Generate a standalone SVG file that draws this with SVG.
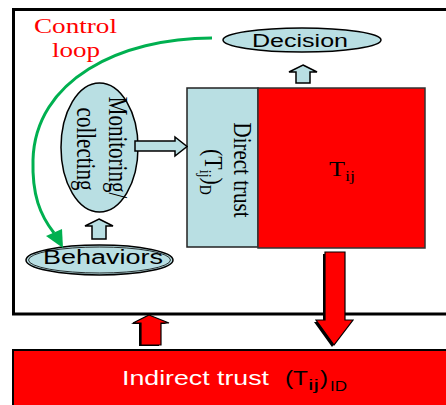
<svg xmlns="http://www.w3.org/2000/svg" width="446" height="405" viewBox="0 0 446 405">
<defs>
<style>
.blue{fill:#b9dfe3;stroke:#000;stroke-width:1.5}
.red{fill:#ff0000;stroke:#000;stroke-width:1.2}
.shadow{fill:#000}
.times{font-family:"Liberation Serif","Times New Roman",serif}
.arial{font-family:"Liberation Sans",Arial,sans-serif}
</style>
</defs>
<rect width="446" height="405" fill="#fff"/>
<g id="frame">
<rect x="13.5" y="9.5" width="450" height="304.5" fill="none" stroke="#000" stroke-width="3"/>
</g>
<g id="control-loop-label" class="times" fill="#ff0000" font-size="22">
<text x="34" y="33" textLength="83" lengthAdjust="spacingAndGlyphs">Control</text>
<text x="52" y="57" textLength="48" lengthAdjust="spacingAndGlyphs">loop</text>
</g>
<g id="decision">
<ellipse cx="302" cy="40" rx="79" ry="12" class="blue" stroke-width="2"/>
<text class="arial" x="252" y="47" font-size="18" textLength="96" lengthAdjust="spacingAndGlyphs">Decision</text>
</g>
<g id="monitoring">
<ellipse cx="99.5" cy="147.5" rx="38.5" ry="64.5" class="blue"/>
<text class="times" font-size="21" text-anchor="middle" transform="translate(109,147.5) scale(1.27,1) rotate(90)">Monitoring/</text>
<text class="times" font-size="21" text-anchor="middle" transform="translate(77,149) scale(1.27,1) rotate(90)">collecting</text>
</g>
<g id="behaviors">
<ellipse cx="99.5" cy="260" rx="73.5" ry="15" class="blue" stroke-width="1.3"/>
<ellipse cx="99.5" cy="260" rx="71" ry="13" fill="none" stroke="#000" stroke-width="0.8"/>
<text class="arial" x="43" y="264" font-size="20" textLength="120" lengthAdjust="spacingAndGlyphs">Behaviors</text>
</g>
<g id="direct-trust">
<rect x="187" y="88" width="71" height="159" fill="#b9dfe3" stroke="#222" stroke-width="1.5"/>
<text class="times" font-size="21" text-anchor="middle" transform="translate(234,170) scale(1.15,1) rotate(90)">Direct trust</text>
<text class="times" font-size="22" transform="translate(205,149) scale(1.15,1) rotate(90)">(T<tspan font-size="14" dy="4">ij</tspan><tspan dy="-4">)</tspan><tspan font-size="14" dy="4">D</tspan></text>
</g>
<g id="tij">
<rect x="258" y="88" width="167" height="160" fill="#ff0000" stroke="#333" stroke-width="1.5"/>
<text class="times" x="329" y="176" font-size="21" textLength="16" lengthAdjust="spacingAndGlyphs">T</text>
<text class="times" x="345" y="181" font-size="14" textLength="10" lengthAdjust="spacingAndGlyphs">ij</text>
</g>
<g id="indirect-trust">
<rect x="13" y="350" width="450" height="70" fill="#ff0000" stroke="#000" stroke-width="2"/>
<text class="arial" x="122" y="385" font-size="20" fill="#fff" textLength="147" lengthAdjust="spacingAndGlyphs">Indirect trust</text>
<text class="arial" x="285" y="385" font-size="20" textLength="23" lengthAdjust="spacingAndGlyphs">(T</text>
<text class="arial" x="308" y="390" font-size="14" textLength="11" lengthAdjust="spacingAndGlyphs">ij</text>
<text class="arial" x="320" y="385" font-size="20" textLength="8" lengthAdjust="spacingAndGlyphs">)</text>
<text class="arial" x="330" y="391" font-size="14" textLength="17" lengthAdjust="spacingAndGlyphs">ID</text>
</g>
<g id="connectors">
<path d="M212,38 C120,38 35,80 33,160 C32,195 40,215 54,233" fill="none" stroke="#00b050" stroke-width="3"/>
<polygon points="63,248 46,236 62,229" fill="#00b050"/>
<polygon class="blue" stroke-width="1.3" points="303,65 317,72 310,72 310,83 296,83 296,72 289,72"/>
<polygon class="blue" stroke-width="1.3" points="99,219 113,226 106,226 106,239 92,239 92,226 85,226"/>
<polygon class="blue" stroke-width="1.3" points="135,141 175,141 175,137 187,146.5 175,156 175,151 135,151"/>
<polygon class="shadow" transform="translate(-2,2)" points="325,252 345,252 345,320 353,320 334,345 316,320 325,320"/>
<polygon class="red" points="325,252 345,252 345,320 353,320 334,345 316,320 325,320"/>
<polygon class="shadow" transform="translate(-2,1)" points="149,315 169,323 161,323 161,345 141,345 141,323 133,323"/>
<polygon class="red" points="149,315 169,323 161,323 161,345 141,345 141,323 133,323"/>
</g>
</svg>
